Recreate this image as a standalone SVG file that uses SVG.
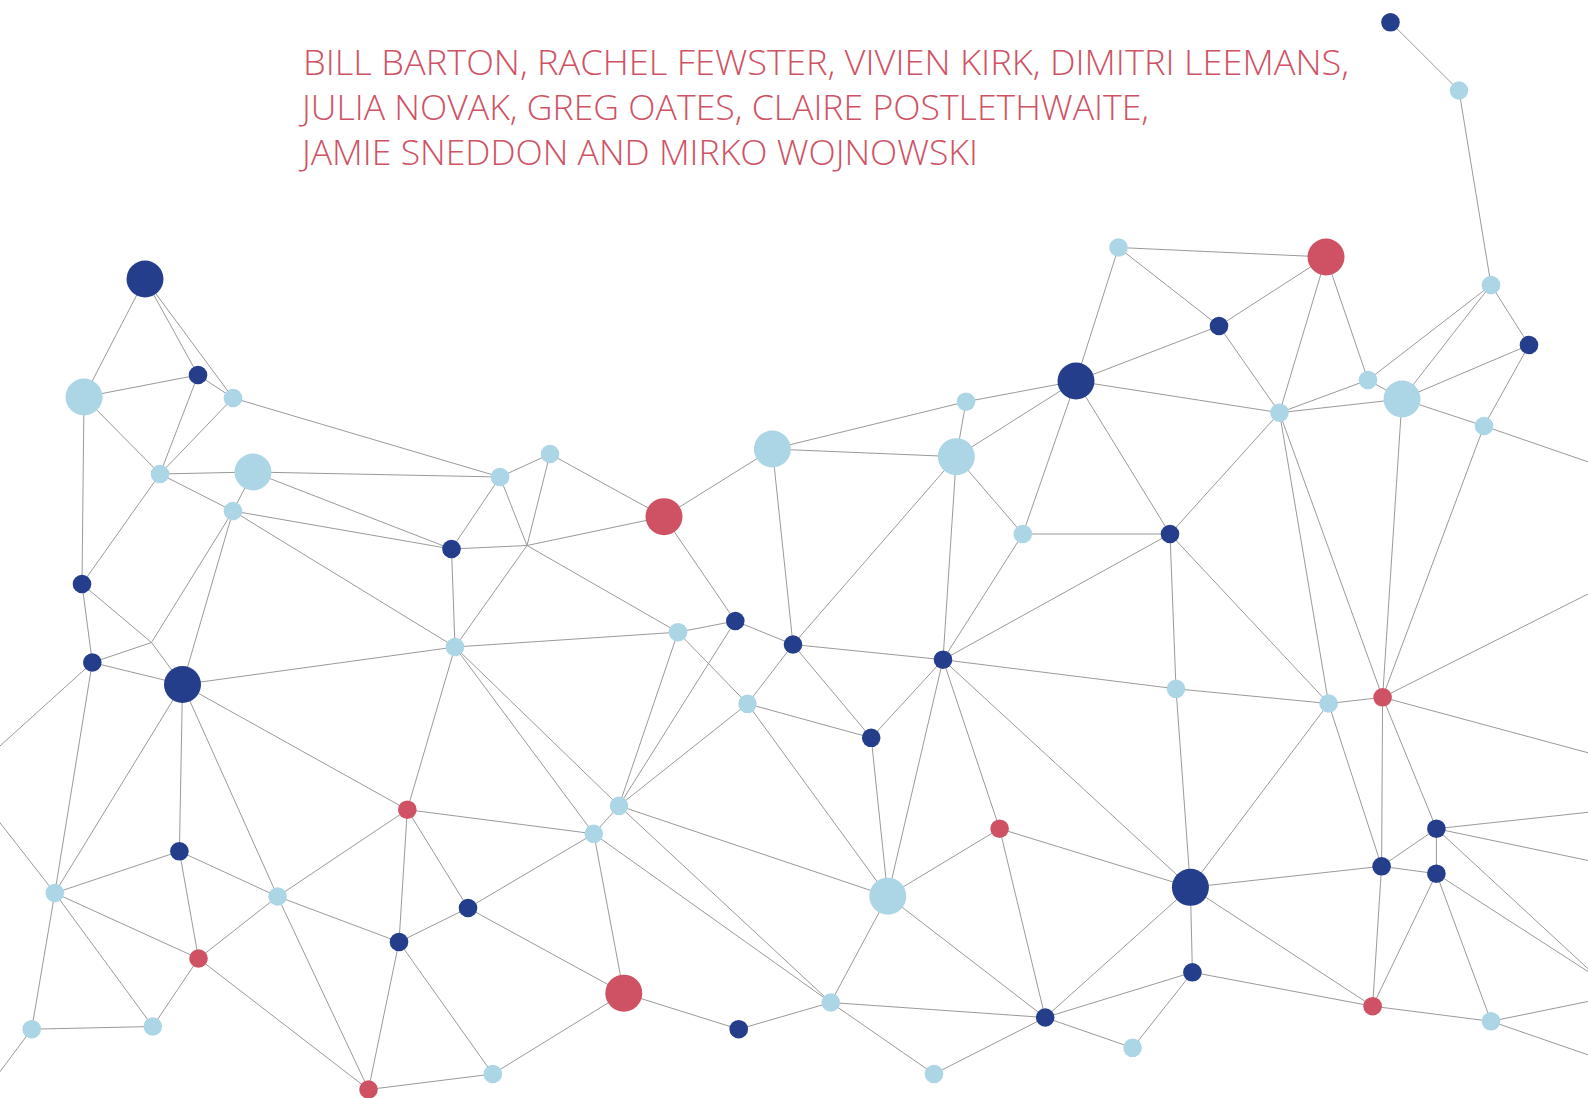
<svg xmlns="http://www.w3.org/2000/svg" width="1588" height="1098" viewBox="0 0 1588 1098">
<style>
.t{font-family:"Open Sans","Liberation Sans",sans-serif;font-weight:300;font-size:35px;fill:#cf5264}
#connectors line{stroke:#9a9a9a;stroke-width:1}
.d{fill:#253e8c}.l{fill:#acd6e6}.r{fill:#cf5264}
</style>
<rect width="1588" height="1098" fill="#ffffff"/>
<g id="title">
<text class="t" x="303" y="74.5" textLength="1046" lengthAdjust="spacingAndGlyphs">BILL BARTON, RACHEL FEWSTER, VIVIEN KIRK, DIMITRI LEEMANS,</text>
<text class="t" x="302" y="120" textLength="847" lengthAdjust="spacingAndGlyphs">JULIA NOVAK, GREG OATES, CLAIRE POSTLETHWAITE,</text>
<text class="t" x="302" y="165" textLength="676" lengthAdjust="spacingAndGlyphs">JAMIE SNEDDON AND MIRKO WOJNOWSKI</text>
</g>
<g id="connectors">
<line x1="145" y1="279" x2="84" y2="397"/>
<line x1="145" y1="279" x2="198" y2="375"/>
<line x1="145" y1="279" x2="233" y2="398"/>
<line x1="84" y1="397" x2="198" y2="375"/>
<line x1="198" y1="375" x2="233" y2="398"/>
<line x1="198" y1="375" x2="160" y2="474"/>
<line x1="233" y1="398" x2="160" y2="474"/>
<line x1="233" y1="398" x2="500" y2="477"/>
<line x1="84" y1="397" x2="160" y2="474"/>
<line x1="84" y1="397" x2="82" y2="584"/>
<line x1="160" y1="474" x2="253" y2="472"/>
<line x1="160" y1="474" x2="233" y2="511"/>
<line x1="160" y1="474" x2="82" y2="584"/>
<line x1="253" y1="472" x2="233" y2="511"/>
<line x1="253" y1="472" x2="500" y2="477"/>
<line x1="253" y1="472" x2="451.5" y2="549"/>
<line x1="233" y1="511" x2="451.5" y2="549"/>
<line x1="233" y1="511" x2="151.5" y2="642.5"/>
<line x1="233" y1="511" x2="182.5" y2="684.5"/>
<line x1="233" y1="511" x2="455" y2="647"/>
<line x1="500" y1="477" x2="550" y2="454"/>
<line x1="500" y1="477" x2="451.5" y2="549"/>
<line x1="500" y1="477" x2="527" y2="545.5"/>
<line x1="451.5" y1="549" x2="527" y2="545.5"/>
<line x1="550" y1="454" x2="527" y2="545.5"/>
<line x1="527" y1="545.5" x2="664" y2="516.7"/>
<line x1="527" y1="545.5" x2="455" y2="647"/>
<line x1="527" y1="545.5" x2="678" y2="632.2"/>
<line x1="451.5" y1="549" x2="455" y2="647"/>
<line x1="82" y1="584" x2="151.5" y2="642.5"/>
<line x1="82" y1="584" x2="92.3" y2="662.5"/>
<line x1="151.5" y1="642.5" x2="92.3" y2="662.5"/>
<line x1="151.5" y1="642.5" x2="182.5" y2="684.5"/>
<line x1="550" y1="454" x2="664" y2="516.7"/>
<line x1="664" y1="516.7" x2="772.4" y2="449"/>
<line x1="664" y1="516.7" x2="735.3" y2="621"/>
<line x1="772.4" y1="449" x2="966" y2="401.7"/>
<line x1="772.4" y1="449" x2="956.3" y2="456.7"/>
<line x1="772.4" y1="449" x2="793" y2="644.5"/>
<line x1="966" y1="401.7" x2="956.3" y2="456.7"/>
<line x1="966" y1="401.7" x2="1076" y2="381"/>
<line x1="956.3" y1="456.7" x2="1076" y2="381"/>
<line x1="956.3" y1="456.7" x2="1022.8" y2="534"/>
<line x1="956.3" y1="456.7" x2="793" y2="644.5"/>
<line x1="956.3" y1="456.7" x2="943" y2="659.7"/>
<line x1="1022.8" y1="534" x2="1076" y2="381"/>
<line x1="1022.8" y1="534" x2="1170" y2="534"/>
<line x1="1022.8" y1="534" x2="943" y2="659.7"/>
<line x1="1076" y1="381" x2="1118.5" y2="247.5"/>
<line x1="1076" y1="381" x2="1219" y2="326"/>
<line x1="1076" y1="381" x2="1279.5" y2="412.7"/>
<line x1="1076" y1="381" x2="1170" y2="534"/>
<line x1="1118.5" y1="247.5" x2="1326" y2="257"/>
<line x1="1118.5" y1="247.5" x2="1219" y2="326"/>
<line x1="1326" y1="257" x2="1219" y2="326"/>
<line x1="1326" y1="257" x2="1279.5" y2="412.7"/>
<line x1="1326" y1="257" x2="1368" y2="380"/>
<line x1="1219" y1="326" x2="1279.5" y2="412.7"/>
<line x1="1390.5" y1="22.3" x2="1459" y2="90.5"/>
<line x1="1459" y1="90.5" x2="1491" y2="285"/>
<line x1="1491" y1="285" x2="1368" y2="380"/>
<line x1="1491" y1="285" x2="1402" y2="399"/>
<line x1="1491" y1="285" x2="1529" y2="345"/>
<line x1="1529" y1="345" x2="1402" y2="399"/>
<line x1="1529" y1="345" x2="1484" y2="426"/>
<line x1="1368" y1="380" x2="1279.5" y2="412.7"/>
<line x1="1368" y1="380" x2="1402" y2="399"/>
<line x1="1402" y1="399" x2="1279.5" y2="412.7"/>
<line x1="1402" y1="399" x2="1484" y2="426"/>
<line x1="1402" y1="399" x2="1382.6" y2="697.3"/>
<line x1="1484" y1="426" x2="1382.6" y2="697.3"/>
<line x1="1484" y1="426" x2="1600" y2="466"/>
<line x1="1279.5" y1="412.7" x2="1170" y2="534"/>
<line x1="1279.5" y1="412.7" x2="1328.6" y2="703.5"/>
<line x1="1279.5" y1="412.7" x2="1382.6" y2="697.3"/>
<line x1="1170" y1="534" x2="943" y2="659.7"/>
<line x1="1170" y1="534" x2="1176" y2="688.8"/>
<line x1="1170" y1="534" x2="1328.6" y2="703.5"/>
<line x1="1382.6" y1="697.3" x2="1600" y2="588"/>
<line x1="1382.6" y1="697.3" x2="1600" y2="756"/>
<line x1="1328.6" y1="703.5" x2="1382.6" y2="697.3"/>
<line x1="1328.6" y1="703.5" x2="1190.4" y2="887.3"/>
<line x1="1328.6" y1="703.5" x2="1381.6" y2="866.3"/>
<line x1="1382.6" y1="697.3" x2="1381.6" y2="866.3"/>
<line x1="1382.6" y1="697.3" x2="1436.4" y2="828.7"/>
<line x1="943" y1="659.7" x2="1176" y2="688.8"/>
<line x1="1176" y1="688.8" x2="1328.6" y2="703.5"/>
<line x1="1176" y1="688.8" x2="1190.4" y2="887.3"/>
<line x1="943" y1="659.7" x2="1190.4" y2="887.3"/>
<line x1="999.6" y1="828.7" x2="1190.4" y2="887.3"/>
<line x1="1190.4" y1="887.3" x2="1381.6" y2="866.3"/>
<line x1="1190.4" y1="887.3" x2="1192.4" y2="972.3"/>
<line x1="1190.4" y1="887.3" x2="1045.2" y2="1017.5"/>
<line x1="1190.4" y1="887.3" x2="1372.6" y2="1006.2"/>
<line x1="1436.4" y1="828.7" x2="1381.6" y2="866.3"/>
<line x1="1436.4" y1="828.7" x2="1436.4" y2="873.7"/>
<line x1="1436.4" y1="828.7" x2="1600" y2="811"/>
<line x1="1436.4" y1="828.7" x2="1600" y2="863"/>
<line x1="1436.4" y1="828.7" x2="1598" y2="978"/>
<line x1="1381.6" y1="866.3" x2="1436.4" y2="873.7"/>
<line x1="1381.6" y1="866.3" x2="1372.6" y2="1006.2"/>
<line x1="1436.4" y1="873.7" x2="1372.6" y2="1006.2"/>
<line x1="1436.4" y1="873.7" x2="1491" y2="1021.3"/>
<line x1="1436.4" y1="873.7" x2="1598" y2="978"/>
<line x1="1192.4" y1="972.3" x2="1045.2" y2="1017.5"/>
<line x1="1192.4" y1="972.3" x2="1132.6" y2="1047.8"/>
<line x1="1192.4" y1="972.3" x2="1372.6" y2="1006.2"/>
<line x1="1045.2" y1="1017.5" x2="1132.6" y2="1047.8"/>
<line x1="1372.6" y1="1006.2" x2="1491" y2="1021.3"/>
<line x1="1491" y1="1021.3" x2="1600" y2="999"/>
<line x1="1491" y1="1021.3" x2="1600" y2="1059"/>
<line x1="455" y1="647" x2="182.5" y2="684.5"/>
<line x1="455" y1="647" x2="678" y2="632.2"/>
<line x1="455" y1="647" x2="407.3" y2="809.7"/>
<line x1="455" y1="647" x2="619" y2="805.8"/>
<line x1="455" y1="647" x2="593.8" y2="833.8"/>
<line x1="619" y1="805.8" x2="678" y2="632.2"/>
<line x1="619" y1="805.8" x2="735.3" y2="621"/>
<line x1="619" y1="805.8" x2="747.5" y2="703.8"/>
<line x1="619" y1="805.8" x2="593.8" y2="833.8"/>
<line x1="619" y1="805.8" x2="887.8" y2="896.2"/>
<line x1="619" y1="805.8" x2="830.8" y2="1002.5"/>
<line x1="593.8" y1="833.8" x2="830.8" y2="1002.5"/>
<line x1="593.8" y1="833.8" x2="623.8" y2="993.2"/>
<line x1="593.8" y1="833.8" x2="407.3" y2="809.7"/>
<line x1="593.8" y1="833.8" x2="468" y2="908"/>
<line x1="678" y1="632.2" x2="735.3" y2="621"/>
<line x1="678" y1="632.2" x2="747.5" y2="703.8"/>
<line x1="735.3" y1="621" x2="793" y2="644.5"/>
<line x1="793" y1="644.5" x2="747.5" y2="703.8"/>
<line x1="793" y1="644.5" x2="943" y2="659.7"/>
<line x1="793" y1="644.5" x2="871.2" y2="737.8"/>
<line x1="943" y1="659.7" x2="871.2" y2="737.8"/>
<line x1="943" y1="659.7" x2="887.8" y2="896.2"/>
<line x1="943" y1="659.7" x2="999.6" y2="828.7"/>
<line x1="747.5" y1="703.8" x2="871.2" y2="737.8"/>
<line x1="747.5" y1="703.8" x2="887.8" y2="896.2"/>
<line x1="871.2" y1="737.8" x2="887.8" y2="896.2"/>
<line x1="887.8" y1="896.2" x2="999.6" y2="828.7"/>
<line x1="887.8" y1="896.2" x2="830.8" y2="1002.5"/>
<line x1="887.8" y1="896.2" x2="1045.2" y2="1017.5"/>
<line x1="999.6" y1="828.7" x2="1045.2" y2="1017.5"/>
<line x1="623.8" y1="993.2" x2="738.7" y2="1029.2"/>
<line x1="623.8" y1="993.2" x2="492.8" y2="1074"/>
<line x1="623.8" y1="993.2" x2="468" y2="908"/>
<line x1="738.7" y1="1029.2" x2="830.8" y2="1002.5"/>
<line x1="830.8" y1="1002.5" x2="1045.2" y2="1017.5"/>
<line x1="830.8" y1="1002.5" x2="934" y2="1074"/>
<line x1="934" y1="1074" x2="1045.2" y2="1017.5"/>
<line x1="92.3" y1="662.5" x2="182.5" y2="684.5"/>
<line x1="92.3" y1="662.5" x2="-10" y2="755"/>
<line x1="92.3" y1="662.5" x2="54.8" y2="893"/>
<line x1="182.5" y1="684.5" x2="54.8" y2="893"/>
<line x1="182.5" y1="684.5" x2="179.4" y2="851.3"/>
<line x1="182.5" y1="684.5" x2="277.6" y2="896.5"/>
<line x1="182.5" y1="684.5" x2="407.3" y2="809.7"/>
<line x1="54.8" y1="893" x2="-10" y2="810"/>
<line x1="54.8" y1="893" x2="179.4" y2="851.3"/>
<line x1="54.8" y1="893" x2="198.5" y2="958.5"/>
<line x1="54.8" y1="893" x2="152.8" y2="1026.5"/>
<line x1="54.8" y1="893" x2="31.7" y2="1029.2"/>
<line x1="179.4" y1="851.3" x2="277.6" y2="896.5"/>
<line x1="179.4" y1="851.3" x2="198.5" y2="958.5"/>
<line x1="277.6" y1="896.5" x2="198.5" y2="958.5"/>
<line x1="277.6" y1="896.5" x2="407.3" y2="809.7"/>
<line x1="277.6" y1="896.5" x2="399" y2="942"/>
<line x1="277.6" y1="896.5" x2="368.5" y2="1089.5"/>
<line x1="407.3" y1="809.7" x2="399" y2="942"/>
<line x1="407.3" y1="809.7" x2="468" y2="908"/>
<line x1="468" y1="908" x2="399" y2="942"/>
<line x1="399" y1="942" x2="368.5" y2="1089.5"/>
<line x1="399" y1="942" x2="492.8" y2="1074"/>
<line x1="198.5" y1="958.5" x2="152.8" y2="1026.5"/>
<line x1="198.5" y1="958.5" x2="368.5" y2="1089.5"/>
<line x1="31.7" y1="1029.2" x2="152.8" y2="1026.5"/>
<line x1="31.7" y1="1029.2" x2="-10" y2="1085"/>
<line x1="368.5" y1="1089.5" x2="492.8" y2="1074"/>
</g>
<g id="n1"><circle class="d" cx="145" cy="279" r="18.5"/></g>
<g id="n2"><circle class="l" cx="84" cy="397" r="18.5"/></g>
<g id="n3"><circle class="d" cx="198" cy="375" r="9.3"/></g>
<g id="n4"><circle class="l" cx="233" cy="398" r="9.3"/></g>
<g id="n5"><circle class="l" cx="160" cy="474" r="9.3"/></g>
<g id="n6"><circle class="l" cx="253" cy="472" r="18.5"/></g>
<g id="n7"><circle class="l" cx="233" cy="511" r="9.3"/></g>
<g id="n8"><circle class="l" cx="500" cy="477" r="9.3"/></g>
<g id="n9"><circle class="d" cx="451.5" cy="549" r="9.3"/></g>
<g id="n10"><circle class="d" cx="82" cy="584" r="9.3"/></g>
<g id="n11"><circle class="l" cx="550" cy="454" r="9.3"/></g>
<g id="n12"><circle class="r" cx="664" cy="516.7" r="18.5"/></g>
<g id="n13"><circle class="l" cx="772.4" cy="449" r="18.5"/></g>
<g id="n14"><circle class="l" cx="966" cy="401.7" r="9.3"/></g>
<g id="n15"><circle class="l" cx="956.3" cy="456.7" r="18.5"/></g>
<g id="n16"><circle class="l" cx="1022.8" cy="534" r="9.3"/></g>
<g id="n17"><circle class="d" cx="1076" cy="381" r="18.5"/></g>
<g id="n18"><circle class="d" cx="1390.5" cy="22.3" r="9.3"/></g>
<g id="n19"><circle class="l" cx="1459" cy="90.5" r="9.3"/></g>
<g id="n20"><circle class="l" cx="1118.5" cy="247.5" r="9.3"/></g>
<g id="n21"><circle class="r" cx="1326" cy="257" r="18.5"/></g>
<g id="n22"><circle class="d" cx="1219" cy="326" r="9.3"/></g>
<g id="n23"><circle class="l" cx="1491" cy="285" r="9.3"/></g>
<g id="n24"><circle class="d" cx="1529" cy="345" r="9.3"/></g>
<g id="n25"><circle class="l" cx="1368" cy="380" r="9.3"/></g>
<g id="n26"><circle class="l" cx="1402" cy="399" r="18.5"/></g>
<g id="n27"><circle class="l" cx="1279.5" cy="412.7" r="9.3"/></g>
<g id="n28"><circle class="l" cx="1484" cy="426" r="9.3"/></g>
<g id="n29"><circle class="d" cx="1170" cy="534" r="9.3"/></g>
<g id="n30"><circle class="d" cx="92.3" cy="662.5" r="9.3"/></g>
<g id="n31"><circle class="d" cx="182.5" cy="684.5" r="18.5"/></g>
<g id="n32"><circle class="l" cx="455" cy="647" r="9.3"/></g>
<g id="n33"><circle class="r" cx="407.3" cy="809.7" r="9.3"/></g>
<g id="n34"><circle class="d" cx="179.4" cy="851.3" r="9.3"/></g>
<g id="n35"><circle class="l" cx="54.8" cy="893" r="9.3"/></g>
<g id="n36"><circle class="l" cx="277.6" cy="896.5" r="9.3"/></g>
<g id="n37"><circle class="d" cx="468" cy="908" r="9.3"/></g>
<g id="n38"><circle class="d" cx="399" cy="942" r="9.3"/></g>
<g id="n39"><circle class="r" cx="198.5" cy="958.5" r="9.3"/></g>
<g id="n40"><circle class="l" cx="31.7" cy="1029.2" r="9.3"/></g>
<g id="n41"><circle class="l" cx="152.8" cy="1026.5" r="9.3"/></g>
<g id="n42"><circle class="r" cx="368.5" cy="1089.5" r="9.3"/></g>
<g id="n43"><circle class="l" cx="492.8" cy="1074" r="9.3"/></g>
<g id="n44"><circle class="l" cx="678" cy="632.2" r="9.3"/></g>
<g id="n45"><circle class="d" cx="735.3" cy="621" r="9.3"/></g>
<g id="n46"><circle class="d" cx="793" cy="644.5" r="9.3"/></g>
<g id="n47"><circle class="d" cx="943" cy="659.7" r="9.3"/></g>
<g id="n48"><circle class="l" cx="747.5" cy="703.8" r="9.3"/></g>
<g id="n49"><circle class="d" cx="871.2" cy="737.8" r="9.3"/></g>
<g id="n50"><circle class="l" cx="619" cy="805.8" r="9.3"/></g>
<g id="n51"><circle class="l" cx="593.8" cy="833.8" r="9.3"/></g>
<g id="n52"><circle class="l" cx="887.8" cy="896.2" r="18.5"/></g>
<g id="n53"><circle class="r" cx="999.6" cy="828.7" r="9.3"/></g>
<g id="n54"><circle class="r" cx="623.8" cy="993.2" r="18.5"/></g>
<g id="n55"><circle class="d" cx="738.7" cy="1029.2" r="9.3"/></g>
<g id="n56"><circle class="l" cx="830.8" cy="1002.5" r="9.3"/></g>
<g id="n57"><circle class="d" cx="1045.2" cy="1017.5" r="9.3"/></g>
<g id="n58"><circle class="l" cx="934" cy="1074" r="9.3"/></g>
<g id="n59"><circle class="l" cx="1176" cy="688.8" r="9.3"/></g>
<g id="n60"><circle class="l" cx="1328.6" cy="703.5" r="9.3"/></g>
<g id="n61"><circle class="r" cx="1382.6" cy="697.3" r="9.3"/></g>
<g id="n62"><circle class="d" cx="1190.4" cy="887.3" r="18.5"/></g>
<g id="n63"><circle class="d" cx="1436.4" cy="828.7" r="9.3"/></g>
<g id="n64"><circle class="d" cx="1381.6" cy="866.3" r="9.3"/></g>
<g id="n65"><circle class="d" cx="1436.4" cy="873.7" r="9.3"/></g>
<g id="n66"><circle class="d" cx="1192.4" cy="972.3" r="9.3"/></g>
<g id="n67"><circle class="r" cx="1372.6" cy="1006.2" r="9.3"/></g>
<g id="n68"><circle class="l" cx="1491" cy="1021.3" r="9.3"/></g>
<g id="n69"><circle class="l" cx="1132.6" cy="1047.8" r="9.3"/></g>
</svg>
